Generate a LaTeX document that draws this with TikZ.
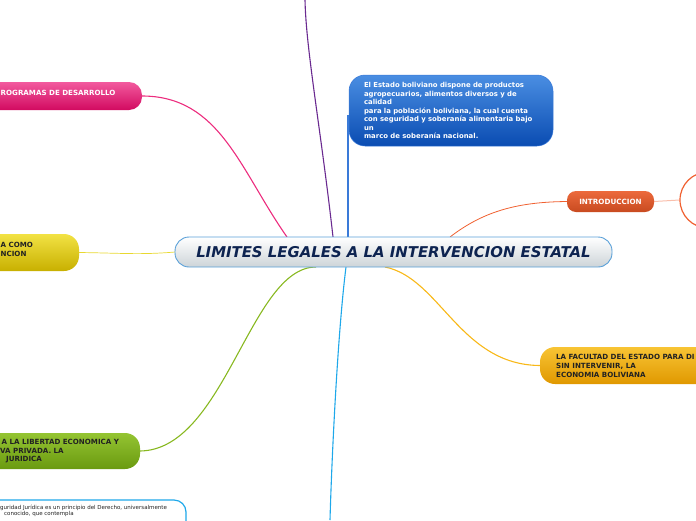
\documentclass[tikz,border=0pt]{standalone}
\usepackage{fontspec}
\setmainfont{DejaVu Sans}
\usetikzlibrary{calc}
\pgfdeclarelayer{background}
\pgfsetlayers{background,main}
\definecolor{pinkT}{HTML}{F25A9E}
\definecolor{pinkB}{HTML}{D20A60}
\definecolor{pinkL}{HTML}{EC2C7E}
\definecolor{purpL}{HTML}{6A2A90}
\definecolor{blueT}{HTML}{4A8EE2}
\definecolor{blueB}{HTML}{0A4CB2}
\definecolor{blueL}{HTML}{3A7AD8}
\definecolor{lblueL}{HTML}{1EA8EA}
\definecolor{yelT}{HTML}{F2E244}
\definecolor{yelB}{HTML}{C8B000}
\definecolor{yelL}{HTML}{E8D830}
\definecolor{intT}{HTML}{EC6A3C}
\definecolor{intB}{HTML}{C84A20}
\definecolor{intL}{HTML}{F06030}
\definecolor{goldT}{HTML}{F8C434}
\definecolor{goldB}{HTML}{E09800}
\definecolor{goldL}{HTML}{F8B818}
\definecolor{grnT}{HTML}{94C432}
\definecolor{grnB}{HTML}{6A9A10}
\definecolor{grnL}{HTML}{88B820}
\definecolor{centB}{HTML}{5AA0D8}
\definecolor{centBot}{HTML}{CDD4D8}
\definecolor{navy}{HTML}{0D2350}
\definecolor{dtext}{HTML}{222222}
\tikzset{
  boxshape/.style={inner sep=0pt, outer sep=0pt},
  wtxt/.style={text=white, font=\fontsize{7.1}{8.6}\selectfont\bfseries, inner sep=0pt, align=left},
  dtxt/.style={text=dtext, font=\fontsize{7.1}{8.9}\selectfont\bfseries, inner sep=0pt, align=left},
  smtxt/.style={inner sep=0pt, anchor=west, font=\fontsize{5.5}{6}\selectfont, text=dtext},
  conn/.style={line width=1.1pt},
}
\begin{document}
\begin{tikzpicture}[x=1pt,y=-1pt]
\useasboundingbox (0,0) rectangle (696,520);
\clip (0,0) rectangle (696,520);

% central
\node[boxshape, draw=centB, line width=0.9pt, top color=white, bottom color=centBot,
  rounded corners=14pt, minimum width=437pt, minimum height=30pt,
  text=navy, font=\fontsize{14.9}{16}\selectfont\bfseries\itshape] (cent) at (393.5,252) {LIMITES LEGALES A LA INTERVENCION ESTATAL};

% pink
\node[boxshape, top color=pinkT, bottom color=pinkB, rounded corners=13pt,
  minimum width=182pt, minimum height=28pt] (prog) at (51,96) {};
\node[wtxt, anchor=west] (progt) at (0.5,92.5) {ROGRAMAS DE DESARROLLO};

% blue objective
\node[boxshape, draw=blueL, line width=0.5pt, top color=blueT, bottom color=blueB, rounded corners=16pt,
  text width=174pt, inner xsep=15pt, minimum height=71pt, text=white,
  font=\fontsize{6.9}{8.5}\selectfont\bfseries, align=left] (obj) at (451,110.5)
  {El Estado boliviano dispone de productos\\agropecuarios, alimentos diversos y de\\calidad\\para la población boliviana, la cual cuenta\\con seguridad y soberanía alimentaria bajo\\un\\marco de soberanía nacional.};

% yellow
\node[boxshape, top color=yelT, bottom color=yelB, rounded corners=15pt,
  minimum width=119pt, minimum height=37pt] (yel) at (19.5,252.5) {};
\node[dtxt, anchor=west] (yelt) at (0.5,249.5) {A COMO\\NCION};

% intro
\node[boxshape, top color=intT, bottom color=intB, rounded corners=9pt,
  minimum width=87pt, minimum height=21pt, text=white, font=\fontsize{7.2}{8}\selectfont\bfseries] (intro) at (610.5,201.5) {INTRODUCCION};
\node[circle, draw=intL, line width=1.2pt, fill=white, minimum size=56pt, inner sep=0pt] (circ) at (708,200) {};

% gold
\node[boxshape, top color=goldT, bottom color=goldB, rounded corners=15pt,
  minimum width=220pt, minimum height=37pt] (gold) at (650,365.5) {};
\node[dtxt, anchor=west] (goldt) at (556,366) {LA FACULTAD DEL ESTADO PARA DI\\SIN INTERVENIR, LA\\ECONOMIA BOLIVIANA};

% green
\node[boxshape, top color=grnT, bottom color=grnB, rounded corners=15pt,
  minimum width=180pt, minimum height=36pt] (grn) at (50,451) {};
\node[dtxt, anchor=west] (grnt1) at (1.5,442) {A LA LIBERTAD ECONOMICA Y};
\node[dtxt, anchor=west] (grnt2) at (0,451) {VA PRIVADA. LA};
\node[dtxt, anchor=west] (grnt3) at (6,459.5) {JURIDICA};

% bottom white
\node[boxshape, draw=lblueL, line width=1.2pt, fill=white, rounded corners=12pt,
  minimum width=226pt, minimum height=60pt] (seg) at (73,530) {};
\node[smtxt] (segt1) at (0,507.5) {guridad Jurídica es un principio del Derecho, universalmente};
\node[smtxt] (segt2) at (4,513.5) {conocido, que contempla};

% anchor coordinates on central border
\coordinate (cPink) at (287,237);
\coordinate (cPurp) at (333,237);
\coordinate (cBlue) at (348,237);
\coordinate (cInt) at (450,237);
\coordinate (cGold) at (385,267);
\coordinate (cGrn) at (316,267);
\coordinate (cLb) at (346,267);
\coordinate (topEnd) at (305,0);
\coordinate (botEnd) at (330,520);

\begin{pgfonlayer}{background}
\draw[conn, draw=pinkL] (prog.east) .. controls (220,96) and (240,170) .. (cPink);
\draw[conn, draw=purpL] (cPurp) .. controls (321,130) and (306,50) .. (topEnd);
\draw[conn, draw=blueL] (cBlue) -- (348,115);
\draw[conn, draw=yelL, line width=0.7pt] (yel.east) .. controls (120,253) and (140,255) .. (cent.west);
\draw[conn, draw=intL, line width=0.8pt] (cInt) .. controls (485,210) and (520,202) .. (intro.west);
\draw[draw=intL!40, line width=1pt] (intro.east) -- (circ.west);
\draw[conn, draw=goldL] (cGold) .. controls (440,278) and (460,365) .. (gold.west);
\draw[conn, draw=grnL] (cGrn) .. controls (250,267) and (225,450) .. (grn.east);
\draw[conn, draw=lblueL] (cLb) .. controls (338,330) and (332,450) .. (botEnd);
\end{pgfonlayer}
\end{tikzpicture}
\end{document}
